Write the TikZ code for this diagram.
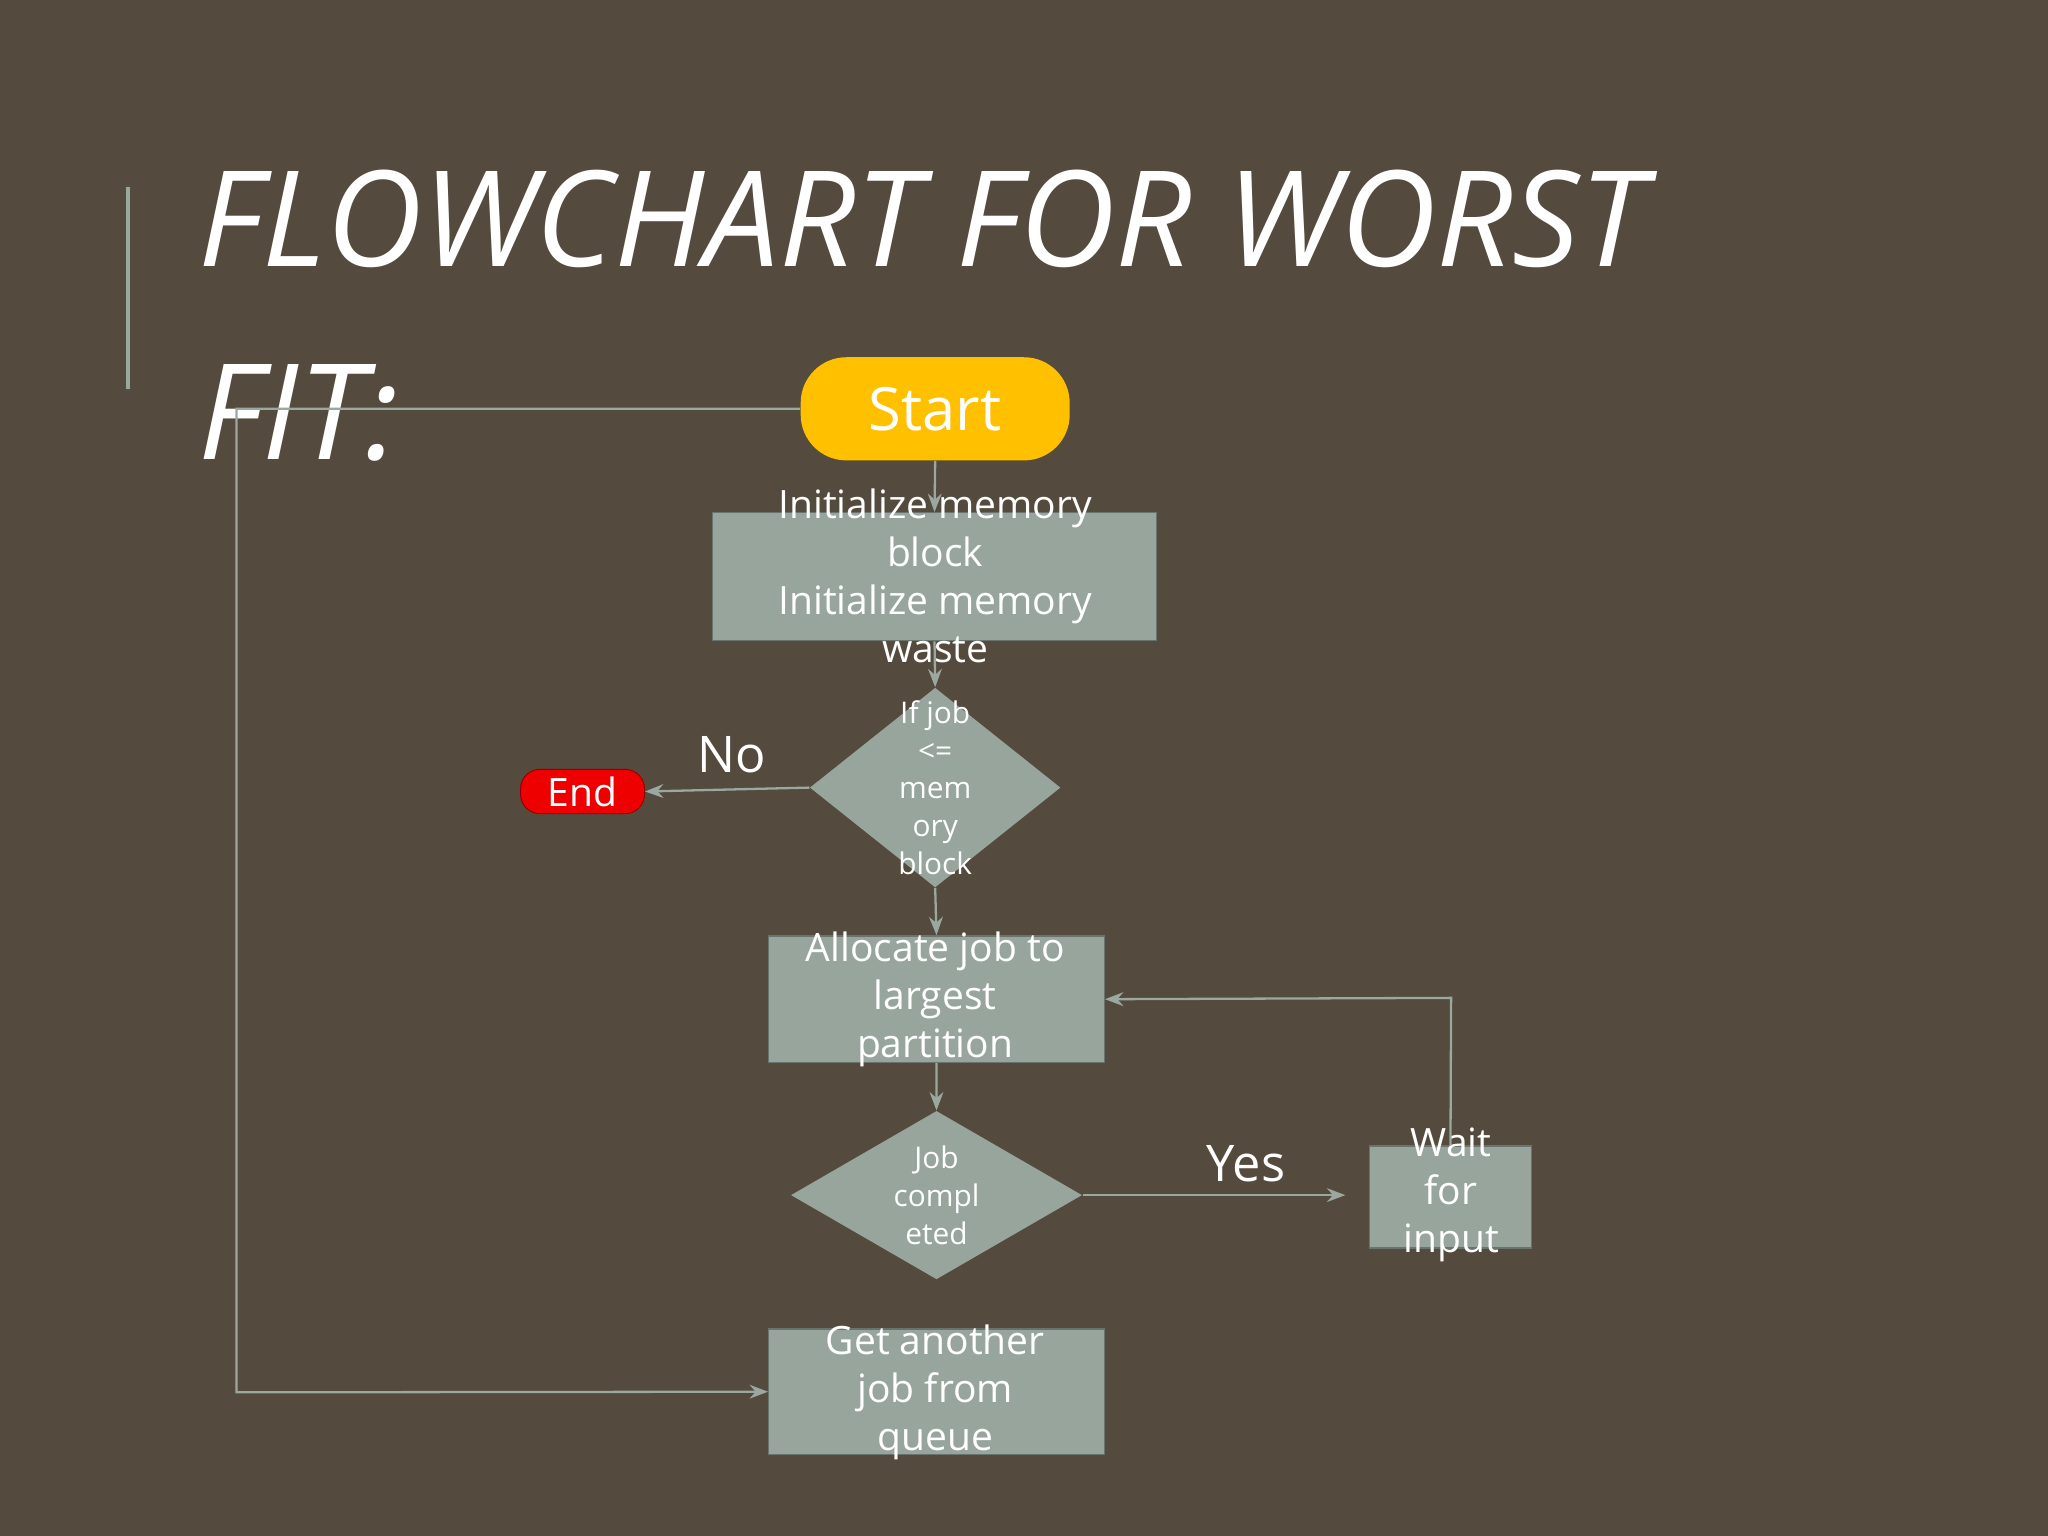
\documentclass[tikz,border=0pt]{standalone}
\usepackage{fontspec}
\setmainfont{Open Sans}
\usetikzlibrary{shapes.geometric,arrows.meta}
\definecolor{bg}{HTML}{554A3E}
\definecolor{boxc}{HTML}{97A59C}
\definecolor{linec}{HTML}{9AA89F}
\definecolor{startc}{HTML}{FFC000}
\definecolor{endc}{HTML}{EE0000}
\tikzset{
  boxn/.style={draw=boxc!70!black,line width=0.6pt,fill=boxc,inner sep=0pt,anchor=north west},
  txt/.style={text=white,align=center,font=\fontsize{17}{21}\selectfont},
  dtxt/.style={text=white,align=center,font=\fontsize{13}{16.5}\selectfont},
  dia/.style={diamond,fill=boxc,inner sep=0pt},
  conn/.style={draw=linec,line width=1pt,-{Stealth[length=8pt,width=6pt]}},
  plain/.style={draw=linec,line width=1pt}
}
\begin{document}
\begin{tikzpicture}[x=0.02cm,y=-0.02cm]
\fill[bg] (0,0) rectangle (1568,1176);
\useasboundingbox (0,0) rectangle (1568,1176);
\draw[linec,line width=1.5pt] (98,143) -- (98,298);
\node[anchor=north west,text=white,align=left,inner sep=0pt,font=\itshape\fontsize{58}{84}\selectfont] (title) at (152,130) {FLOWCHART FOR WORST\\FIT:};
% nodes
\node[fill=startc,rounded corners=0.7cm,minimum width=4.12cm,minimum height=1.58cm,inner sep=0pt] (start) at (716,313) {};
\node[txt,font=\fontsize{26}{30}\selectfont] at (716,313) {Start};
\node[boxn,minimum width=6.8cm,minimum height=1.96cm] (init) at (545,392) {};
\node[txt] at (716,441) {Initialize memory\\block\\Initialize memory\\waste};
\node[dia,minimum width=3.84cm,minimum height=3.06cm] (d1) at (716,603) {};
\node[dtxt] at (716,603) {If job\\<=\\mem\\ory\\block};
\node[fill=endc,draw=endc!60!black,rounded corners=0.3cm,minimum width=1.9cm,minimum height=0.68cm,inner sep=0pt] (end) at (446,606) {};
\node[txt] at (446,606) {End};
\node[txt,font=\fontsize{22}{26}\selectfont] (no) at (560,578) {No};
\node[boxn,minimum width=5.14cm,minimum height=1.94cm] (alloc) at (588,716) {};
\node[txt] at (716,765) {Allocate job to\\largest\\partition};
\node[dia,minimum width=4.46cm,minimum height=2.58cm] (d2) at (717,915) {};
\node[dtxt] at (717,915) {Job\\compl\\eted};
\node[boxn,minimum width=2.48cm,minimum height=1.56cm] (wait) at (1048,877) {};
\node[txt] at (1111,915) {Wait\\for\\input};
\node[txt,font=\fontsize{22}{26}\selectfont] (yes) at (954,891) {Yes};
\node[boxn,minimum width=5.14cm,minimum height=1.92cm] (get) at (588,1017) {};
\node[txt] at (716,1066) {Get another\\job from\\queue};
\coordinate (c1) at (181,313);
\coordinate (c2) at (181,1066);
\coordinate (yend) at (1030,915);
\coordinate (w1) at (1111,764);
% connectors
\draw[conn] (start.south) -- (init.north);
\draw[conn] (init.south) -- (d1.north);
\draw[conn] (d1.west) -- (end.east);
\draw[conn] (d1.south) -- (alloc.north);
\draw[conn] (alloc.south) -- (d2.north);
\draw[conn] (d2.east) -- (yend);
\draw[conn] (wait.north) -- (w1) -- (alloc.east);
\draw[conn] (start.west) -- (c1) -- (c2) -- (get.west);
\end{tikzpicture}
\end{document}
